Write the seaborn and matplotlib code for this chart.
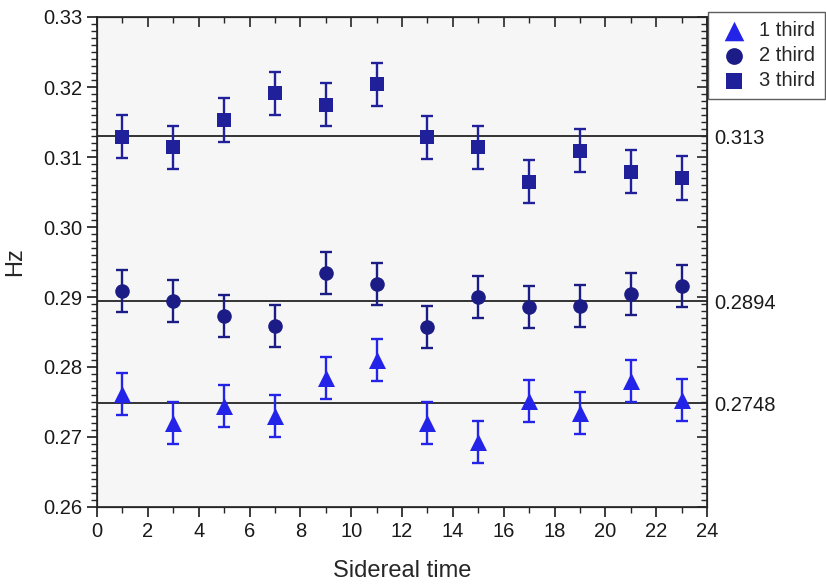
import matplotlib
matplotlib.use("Agg")
from matplotlib import pyplot as plt
from matplotlib.ticker import MultipleLocator
import numpy as np
import pandas as pd
import seaborn as sns

# dati
hours = [1, 3, 5, 7, 9, 11, 13, 15, 17, 19, 21, 23]
third1 = [0.2762, 0.2720, 0.2745, 0.2730, 0.2784, 0.2810,
          0.2720, 0.2693, 0.2751, 0.2734, 0.2780, 0.2753]
third2 = [0.2909, 0.2895, 0.2873, 0.2859, 0.2935, 0.2918,
          0.2857, 0.2900, 0.2886, 0.2887, 0.2904, 0.2916]
third3 = [0.3129, 0.3114, 0.3153, 0.3191, 0.3175, 0.3204,
          0.3128, 0.3114, 0.3065, 0.3109, 0.3079, 0.3070]
err1 = [0.0030] * 12
err2 = [0.0030] * 12
err3 = [0.0031] * 12
series_names = ["1 third", "2 third", "3 third"]
mean_lines = [0.2748, 0.2894, 0.313]
mean_labels = ["0.2748", "0.2894", "0.313"]

df = pd.DataFrame({
    "x": hours * 3,
    "Hz": third1 + third2 + third3,
    "err": err1 + err2 + err3,
    "serie": np.repeat(series_names, len(hours)),
})

colori = {"1 third": "#2424e8", "2 third": "#1c1c86", "3 third": "#20209a"}
marcatori = {"1 third": "^", "2 third": "o", "3 third": "s"}
dimensioni = {"1 third": 150, "2 third": 110, "3 third": 95}

sns.set_style("ticks")
plt.rcParams["font.family"] = ["Liberation Sans", "DejaVu Sans"]

fig = plt.figure(figsize=(8.26, 5.86), dpi=100)
ax = fig.add_axes([97 / 826, 1 - 507 / 586, 610 / 826, 490 / 586])
ax.set_facecolor("#f6f6f6")

for y in mean_lines:
    ax.axhline(y, color="#333333", lw=1.4, zorder=1)

for nome in series_names:
    sub = df[df["serie"] == nome]
    ax.errorbar(sub["x"], sub["Hz"], yerr=sub["err"], fmt="none",
                ecolor=colori[nome], elinewidth=1.7, capsize=4.5,
                capthick=1.7, zorder=2)

for nome in series_names:
    sub = df[df["serie"] == nome]
    sns.scatterplot(data=sub, x="x", y="Hz", marker=marcatori[nome],
                    color=colori[nome], s=dimensioni[nome], linewidth=0,
                    label=nome, ax=ax, zorder=3)

ax.set_xlim(0, 24)
ax.set_ylim(0.26, 0.33)
ax.xaxis.set_major_locator(MultipleLocator(2))
ax.xaxis.set_minor_locator(MultipleLocator(1))
ax.yaxis.set_major_locator(MultipleLocator(0.01))
ax.yaxis.set_minor_locator(MultipleLocator(0.001))
ax.yaxis.set_major_formatter(matplotlib.ticker.FormatStrFormatter("%.2f"))
ax.tick_params(which="major", direction="out", length=7, width=1.2,
               labelsize=14.5, colors="#1a1a1a")
ax.tick_params(which="minor", direction="out", length=4, width=1)
ax.set_xlabel("Sidereal time", fontsize=17, labelpad=14)
ax.set_ylabel("Hz", fontsize=17, labelpad=12)
for sp in ax.spines.values():
    sp.set_linewidth(1.2)
    sp.set_color("#222222")

# tacche interne su destra e in alto
ax_r = ax.twinx()
ax_r.set_ylim(ax.get_ylim())
ax_r.yaxis.set_major_locator(MultipleLocator(0.01))
ax_r.yaxis.set_minor_locator(MultipleLocator(0.001))
ax_r.tick_params(which="major", direction="in", length=7, width=1.2, labelright=False)
ax_r.tick_params(which="minor", direction="in", length=4, width=1)
ax_t = ax.twiny()
ax_t.set_xlim(ax.get_xlim())
ax_t.xaxis.set_major_locator(MultipleLocator(2))
ax_t.xaxis.set_minor_locator(MultipleLocator(1))
ax_t.tick_params(which="major", direction="in", length=7, width=1.2, labeltop=False)
ax_t.tick_params(which="minor", direction="in", length=4, width=1)

# etichette delle medie a destra
sec = ax.secondary_yaxis("right")
sec.set_yticks(mean_lines)
sec.set_yticklabels(mean_labels)
sec.tick_params(length=0, pad=5, labelsize=14.5, colors="#1a1a1a")
sec.spines["right"].set_visible(False)

h, l = ax.get_legend_handles_labels()
leg = fig.legend(h, l, loc="upper left", bbox_to_anchor=(708 / 826, 1 - 12 / 586),
                 borderaxespad=0, frameon=True, fancybox=False,
                 edgecolor="#333333", fontsize=14.5, labelspacing=0.3,
                 handletextpad=0.4, borderpad=0.45, handlelength=1.7,
                 markerscale=1.15)
leg.get_frame().set_linewidth(1.0)
ax.get_legend().remove()

fig.savefig("out.png", dpi=100)
